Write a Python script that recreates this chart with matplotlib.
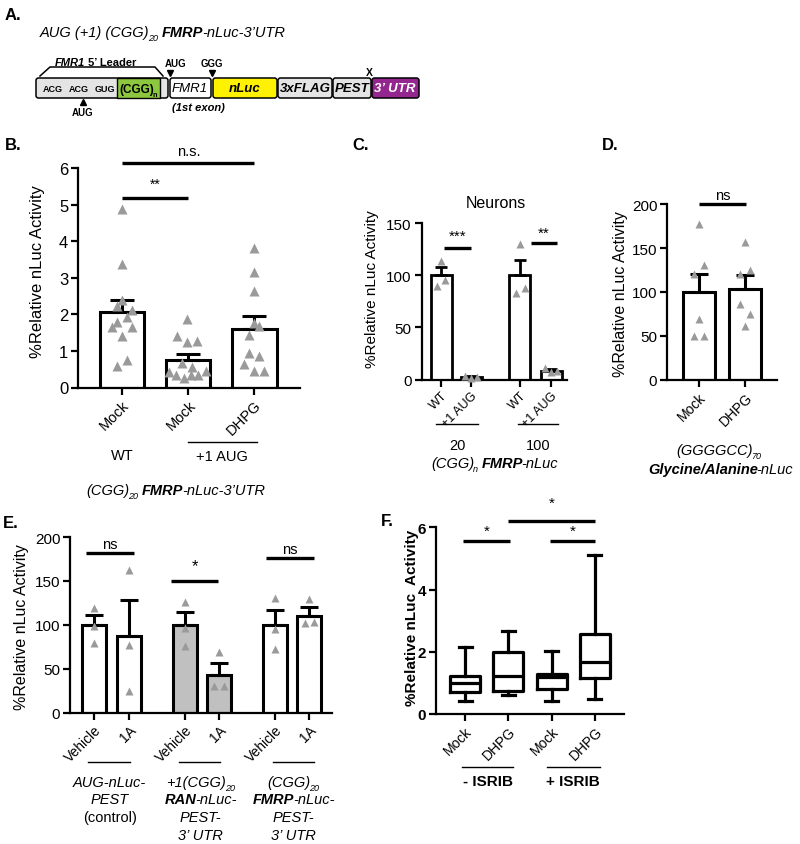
import numpy as np
import matplotlib
matplotlib.use('Agg')
import matplotlib.pyplot as plt
from matplotlib.patches import FancyBboxPatch, Rectangle
from matplotlib.lines import Line2D

plt.rcParams['font.family'] = ['Liberation Sans', 'DejaVu Sans']

# ---------------- data ----------------
# B: (CGG)20 FMRP-nLuc-3'UTR
b_labels = ['Mock', 'Mock', 'DHPG']
b_mean = [2.06, 0.76, 1.61]
b_top = [2.40, 0.93, 1.97]
b_pts = [[4.88, 3.37, 2.39, 2.23, 2.12, 1.94, 1.80, 1.65, 1.65, 1.42, 0.74, 0.60],
         [1.87, 1.41, 1.25, 1.28, 0.66, 0.57, 0.42, 0.33, 0.27, 0.33, 0.33, 0.46],
         [3.82, 3.16, 2.64, 1.76, 1.68, 1.44, 0.94, 0.86, 0.65, 0.46, 0.46]]

# C: neurons
c_labels = ['WT', '+1 AUG', 'WT', '+1 AUG']
c_mean = [100, 2.6, 100, 8]
c_top = [108, 3.8, 115, 10.2]
c_pts = [[114, 90, 95.5], [3.5, 1.5, 2.5], [129.6, 82.8, 88.2], [11, 7, 8.5]]

# D: (GGGGCC)70
d_labels = ['Mock', 'DHPG']
d_mean = [100, 103]
d_top = [121, 119.5]
d_pts = [[177.5, 130.5, 121, 68.7, 49.6, 49.6], [157, 124.8, 120, 86.6, 75, 61.8]]

# E: vehicle / 1A
e_labels = ['Vehicle', '1A'] * 3
e_mean = [100, 87, 100, 43, 100, 110]
e_top = [111, 128.5, 114, 56, 117, 120.6]
e_pts = [[119, 99, 79], [162, 77, 25], [125.6, 96.3, 76.1],
         [68.6, 29.9, 29.9], [130.5, 95.2, 72.4], [129.3, 101.7, 102.8]]

# F: box plots
f_labels = ['Mock', 'DHPG', 'Mock', 'DHPG']
f_lo = [0.43, 0.62, 0.41, 0.48]
f_q1 = [0.70, 0.75, 0.80, 1.15]
f_med = [1.00, 1.23, 1.20, 1.66]
f_q3 = [1.21, 1.98, 1.29, 2.57]
f_hi = [2.16, 2.66, 2.03, 5.12]

# point scatter offsets (pixels)
b_jit = [[0, 0, 0, -5, 10, 5, -5, -10, 10, 0, 5, -5],
         [-1, -11, -1, 9, -6, 4, -19, -12, -4, 3, 10, 18],
         [0, 0, 0, 0, 5, -5, -5, 5, -10, 0, 10]]
c_jit = [[0, -4, 4], [-6, 0, 6], [0, -4, 5], [-6, 0, 6]]
d_jit = [[0, 5, -5, 0, -5, 5], [0, 5, -5, -5, 5, 0]]
e_jit = [[0, 0, 0], [0, 0, 0], [0, 0, 0], [0, -5, 4.5], [0, 0, 0], [0, -4, 5]]

W, H = 800, 845
fig = plt.figure(figsize=(8, 8.45), dpi=100)
GRAY = '#9a9a9a'


def px_axes(x0, y0, x1, y1):
    return fig.add_axes([x0 / W, 1 - y1 / H, (x1 - x0) / W, (y1 - y0) / H])


def ftext(x, y, s, **kw):
    kw.setdefault('ha', 'center')
    kw.setdefault('va', 'center')
    return fig.text(x / W, 1 - y / H, s, **kw)


def fline(x0, x1, y, lw=1.0):
    fig.add_artist(Line2D([x0 / W, x1 / W], [1 - y / H] * 2, transform=fig.transFigure,
                          color='k', lw=lw))


def rich(x, y, parts, fs, ha='center', color='k'):
    # draw mixed-style text pieces one after another on a common baseline
    r = fig.canvas.get_renderer()
    arts, widths = [], []
    for s, k in parts:
        if s == ' ':
            arts.append(None)
            widths.append(fs * 0.34 * 100 / 72)
            continue
        sub = 's' in k
        size = fs * 0.62 if sub else fs
        t = fig.text(0, 0, 'I' + s + 'I', fontsize=size,
                     style='italic' if 'i' in k else 'normal',
                     weight='bold' if 'b' in k else 'normal',
                     color=color, va='baseline', ha='left')
        w1 = t.get_window_extent(r).width
        t.set_text('II')
        w2 = t.get_window_extent(r).width
        t.set_text(s)
        arts.append((t, sub))
        widths.append(w1 - w2 - size * 0.14)
    x0 = x - sum(widths) / 2 if ha == 'center' else x
    for a, w in zip(arts, widths):
        if a is not None:
            t, sub = a
            dy = fs * 0.3 * 100 / 72 if sub else 0
            t.set_position((x0 / W, 1 - (y + dy) / H))
        x0 += w


def style(ax, fs, lw=1.6, bold=False):
    for s in ['top', 'right']:
        ax.spines[s].set_visible(False)
    for s in ['left', 'bottom']:
        ax.spines[s].set_linewidth(lw)
    ax.tick_params(width=lw, length=5, labelsize=fs, pad=2)
    if bold:
        for lab in ax.get_yticklabels():
            lab.set_fontweight('bold')


def bars(ax, pos, mean, top, pts, jit, unit, width, cap, lw, ms, fills=None):
    mean = np.array(mean)
    ax.bar(pos, mean, width, color=fills or 'white', edgecolor='k', linewidth=lw, zorder=2)
    ax.errorbar(pos, mean, yerr=[np.zeros(len(mean)), np.array(top) - mean], fmt='none',
                ecolor='k', elinewidth=lw, capsize=cap, capthick=lw, zorder=3)
    for p, ys, js in zip(pos, pts, jit):
        ax.plot(p + np.array(js) / unit, ys, '^', color=GRAY, ms=ms, mec='none',
                zorder=4, clip_on=False)


def sig(ax, x0, x1, y, txt, off, fs=10, lw=2.4):
    ax.plot([x0, x1], [y, y], color='k', lw=lw, clip_on=False, solid_capstyle='butt')
    ax.annotate(txt, ((x0 + x1) / 2, y), xytext=(0, off * 0.72), textcoords='offset points',
                ha='center', va='center', fontsize=fs, annotation_clip=False)


def rot_labels(ax, labels, fs):
    ax.set_xticklabels(labels, rotation=45, ha='right', rotation_mode='anchor', fontsize=fs)


# ---------------- A: construct diagram ----------------
ftext(5, 15, 'A.', fontsize=12, weight='bold', ha='left')
rich(40, 37, [('AUG (+1) (CGG)', 'i'), ('20', 'si'), (' ', ''), ('FMRP', 'bi'),
              ('-nLuc-3\u2019UTR', 'i')], 10.5, ha='left')

axA = fig.add_axes([0, 1 - 135 / H, 1, 135 / H])
axA.set_xlim(0, W)
axA.set_ylim(135, 0)
axA.axis('off')
boxes = [(36, 132, '#e4e4e4'), (170, 41, 'white'), (213, 64, '#fff200'),
         (278, 54, '#e4e4e4'), (333, 38, '#e4e4e4'), (372, 47, '#93278f')]
for x0, w, c in boxes:
    axA.add_patch(FancyBboxPatch((x0, 79), w, 20, boxstyle='round,pad=0,rounding_size=2.5',
                                 fc=c, ec='k', lw=1.1))
axA.add_patch(Rectangle((117, 79), 43, 20, fc='#8dc63f', ec='k', lw=1.0))
for x, s in [(53, 'ACG'), (79, 'ACG'), (105, 'GUG')]:
    ftext(x, 90, s, fontsize=6.5, weight='bold')
rich(138, 93.5, [('(CGG)', 'b'), ('n', 'sb')], 8.5)
ftext(190, 89, 'FMR1', fontsize=9.5, style='italic')
ftext(245, 89, 'nLuc', fontsize=9.5, style='italic', weight='bold')
ftext(305, 89, '3xFLAG', fontsize=9.5, style='italic', weight='bold')
ftext(352, 89, 'PEST', fontsize=9.5, style='italic', weight='bold')
ftext(395, 89, '3\u2019 UTR', fontsize=9.5, style='italic', weight='bold', color='white')
axA.plot([40, 50, 155, 163], [77, 68, 68, 77], color='k', lw=1.1)
rich(95, 66, [('FMR1', 'bi'), (' ', ''), ('5\u2019 Leader', 'b')], 8)
ftext(176, 64, 'AUG', fontsize=7, weight='bold')
axA.plot([170], [74], 'v', color='k', ms=4)
ftext(212, 64, 'GGG', fontsize=7, weight='bold')
axA.plot([212], [74], 'v', color='k', ms=4)
ftext(369, 73, 'X', fontsize=7.5, weight='bold')
axA.plot([83], [103], '^', color='k', ms=4)
ftext(83, 113, 'AUG', fontsize=7, weight='bold')
ftext(198, 108, '(1st exon)', fontsize=8, weight='bold', style='italic')

# ---------------- B ----------------
ftext(5, 145, 'B.', fontsize=12, weight='bold', ha='left')
axB = px_axes(78, 169.3, 300, 388.5)
bars(axB, [0, 1, 2], b_mean, b_top, b_pts, b_jit, 66, 0.67, 8.5, 2.2, 6.5)
axB.set_xlim(-0.67, 2.69)
axB.set_ylim(0, 6)
axB.set_yticks(range(0, 7))
axB.set_xticks([0, 1, 2])
style(axB, 12)
rot_labels(axB, b_labels, 10.5)
sig(axB, 0, 1, 5.18, '**', 14, 10)
sig(axB, 0, 2, 6.14, 'n.s.', 12, 10.5)
ftext(38, 272, '%Relative nLuc Activity', rotation=90, fontsize=12)
ftext(122, 456, 'WT', fontsize=10.5)
fline(188, 257, 443)
ftext(222, 457, '+1 AUG', fontsize=10.5)
rich(175, 495, [('(CGG)', 'i'), ('20', 'si'), (' ', ''), ('FMRP', 'bi'),
                ('-nLuc-3\u2019UTR', 'i')], 10.5)

# ---------------- C ----------------
ftext(352, 145, 'C.', fontsize=12, weight='bold', ha='left')
axC = px_axes(421.5, 224, 567, 380.7)
posC = [0, 1, 2.63, 3.67]
bars(axC, posC, c_mean, c_top, c_pts, c_jit, 30, 0.7, 4.2, 2.0, 5.5)
axC.set_xlim(-0.65, 4.2)
axC.set_ylim(0, 150)
axC.set_yticks([0, 50, 100, 150])
axC.set_xticks(posC)
style(axC, 11)
rot_labels(axC, c_labels, 9)
sig(axC, 0.11, 0.99, 125.8, '***', 12, 11)
sig(axC, 2.99, 3.88, 131.2, '**', 10, 11)
ftext(496, 203, 'Neurons', fontsize=11.5)
ftext(372, 289, '%Relative nLuc Activity', rotation=90, fontsize=11)
fline(436, 478, 425)
fline(518, 558, 425)
ftext(457, 446, '20', fontsize=10.5)
ftext(538, 446, '100', fontsize=10.5)
rich(494, 468, [('(CGG)', 'i'), ('n', 'si'), (' ', ''), ('FMRP', 'bi'), ('-nLuc', 'i')], 10.5)

# ---------------- D ----------------
ftext(602, 145, 'D.', fontsize=12, weight='bold', ha='left')
axD = px_axes(667, 205.3, 777, 380.7)
bars(axD, [0, 1], d_mean, d_top, d_pts, d_jit, 46.5, 0.69, 6.8, 2.2, 6)
axD.set_xlim(-0.69, 1.68)
axD.set_ylim(0, 200)
axD.set_yticks([0, 50, 100, 150, 200])
axD.set_xticks([0, 1])
style(axD, 11)
rot_labels(axD, d_labels, 10)
sig(axD, 0.0, 1.02, 200, 'ns', 9, 10.5)
ftext(621, 294, '%Relative nLuc Activity', rotation=90, fontsize=11.5)
rich(718, 455, [('(GGGGCC)', 'i'), ('70', 'si')], 10.5)
rich(720, 474, [('Glycine/Alanine', 'bi'), ('-nLuc', 'i')], 10.5)

# ---------------- E ----------------
ftext(3, 523, 'E.', fontsize=12, weight='bold', ha='left')
axE = px_axes(70, 538, 332, 713.5)
posE = [0, 1, 2.62, 3.62, 5.23, 6.23]
fillE = ['white', 'white', '#c0c0c0', '#c0c0c0', 'white', 'white']
bars(axE, posE, e_mean, e_top, e_pts, e_jit, 34.5, 0.7, 6.6, 2.2, 6, fills=fillE)
axE.set_xlim(-0.7, 6.89)
axE.set_ylim(0, 200)
axE.set_yticks([0, 50, 100, 150, 200])
axE.set_xticks(posE)
style(axE, 11)
rot_labels(axE, e_labels, 10)
sig(axE, -0.24, 1.14, 181.4, 'ns', 9, 10.5)
sig(axE, 2.23, 3.59, 150.2, '*', 15, 12)
sig(axE, 4.99, 6.36, 175.7, 'ns', 9, 10.5)
ftext(22, 627, '%Relative nLuc Activity', rotation=90, fontsize=11.5)
for x0, x1 in [(88, 130), (179, 220), (273, 314)]:
    fline(x0, x1, 763)
rich(109, 787, [('AUG-nLuc-', 'i')], 10.5)
rich(109, 804, [('PEST', 'i')], 10.5)
rich(109, 822, [('(control)', 'r')], 10.5)
rich(200, 787, [('+1(CGG)', 'i'), ('20', 'si')], 10.5)
rich(200, 804, [('RAN', 'bi'), ('-nLuc-', 'i')], 10.5)
rich(200, 822, [('PEST-', 'i')], 10.5)
rich(200, 840, [('3\u2019 UTR', 'i')], 10.5)
rich(293, 787, [('(CGG)', 'i'), ('20', 'si')], 10.5)
rich(293, 804, [('FMRP', 'bi'), ('-nLuc-', 'i')], 10.5)
rich(293, 822, [('PEST-', 'i')], 10.5)
rich(293, 840, [('3\u2019 UTR', 'i')], 10.5)

# ---------------- F ----------------
ftext(381, 522, 'F.', fontsize=12, weight='bold', ha='left')
axF = px_axes(436, 528.3, 624, 715)
stats = [dict(whislo=a, q1=b, med=c, q3=d, whishi=e, fliers=[])
         for a, b, c, d, e in zip(f_lo, f_q1, f_med, f_q3, f_hi)]
lwF = 2.3
axF.bxp(stats, positions=[0, 1, 2, 3], widths=0.69, showfliers=False, capwidths=0.3,
        boxprops=dict(lw=lwF), whiskerprops=dict(lw=lwF), capprops=dict(lw=lwF),
        medianprops=dict(color='k', lw=lwF))
axF.set_xlim(-0.67, 3.67)
axF.set_ylim(0, 6)
axF.set_yticks([0, 2, 4, 6])
style(axF, 11, bold=True)
rot_labels(axF, f_labels, 10)
sig(axF, -0.05, 1.04, 5.57, '*', 10, 11)
sig(axF, 1.0, 3.0, 6.19, '*', 19, 11)
sig(axF, 1.96, 3.0, 5.57, '*', 10, 11)
ftext(412, 618, '%Relative nLuc  Activity', rotation=90, fontsize=11, weight='bold')
fline(462, 513, 768)
fline(547, 600, 768)
ftext(488, 782, '- ISRIB', fontsize=11, weight='bold')
ftext(573, 782, '+ ISRIB', fontsize=11, weight='bold')

fig.savefig('out.png', dpi=100)
